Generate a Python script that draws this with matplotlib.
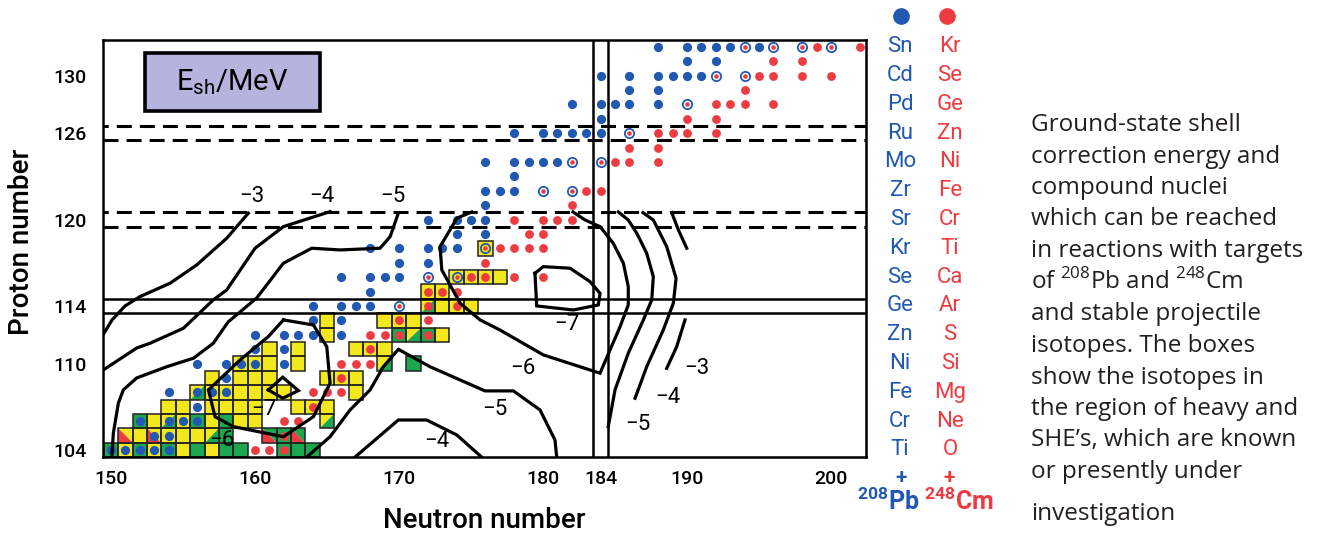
import matplotlib
matplotlib.use("Agg")
import matplotlib.pyplot as plt
from matplotlib.patches import Rectangle, Polygon
from matplotlib.lines import Line2D
from matplotlib.transforms import blended_transform_factory

plt.rcParams['font.family'] = ['Roboto', 'DejaVu Sans']
plt.rcParams['mathtext.fontset'] = 'custom'
plt.rcParams['mathtext.rm'] = 'Open Sans'
plt.rcParams['mathtext.sf'] = 'Roboto'
plt.rcParams['mathtext.bf'] = 'Roboto:bold'
plt.rcParams['lines.scale_dashes'] = False

BLUE = '#2158b2'
RED = '#ee3b42'
YELLOW = '#f3e81e'
GREEN = '#1ba650'
EDGE = '#222222'

# compound nuclei reachable with 208Pb targets (Z: list of N)
blue_dots = {
    132: [188, 190, 191, 192, 193, 195],
    131: [190, 192],
    130: [184, 186, 188, 189, 190, 191],
    129: [186, 188],
    128: [182, 184, 185, 186, 188],
    127: [184],
    126: [178, 180, 181, 182, 183, 184],
    124: [176, 178, 179, 180, 181],
    123: [178],
    122: [176, 177, 178],
    121: [176],
    120: [172, 174, 175, 176],
    119: [174, 176],
    118: [168, 170, 172, 173, 174],
    117: [170, 172],
    116: [166, 168, 169, 170],
    115: [168],
    114: [164, 166, 167, 168],
    113: [164, 166],
    112: [160, 162, 163, 164, 166],
    111: [160, 162],
    110: [156, 158, 162],
    109: [158],
    108: [154],
    107: [156],
}

# compound nuclei reachable with 248Cm targets
red_dots = {
    132: [199, 202],
    131: [196, 198],
    130: [195, 196, 198, 200],
    129: [194],
    128: [192, 193, 194, 196],
    127: [190, 192],
    126: [188, 189, 190, 192],
    125: [186, 188],
    124: [185, 186, 188],
    122: [183, 184],
    121: [182],
    120: [178, 180, 181, 182],
    119: [179, 180],
    118: [177, 178, 179, 180],
    117: [176],
    116: [178, 180],
    115: [174],
    113: [172],
    112: [168, 169],
    110: [166, 167, 168],
    108: [164, 165, 166],
    106: [162, 163],
    104: [160, 161],
}

# reachable with both targets
both_dots = {
    132: [194, 196, 198, 200],
    130: [192, 194],
    128: [190],
    126: [186],
    124: [182, 184],
    122: [180, 182],
    116: [172],
    114: [170],
}

# known / investigated isotopes: (N, Z, fill, dot)
known = [
    (150, 104, 'G', 'b'), (151, 104, 'Y', 'b'), (152, 104, 'G', 'b'), (153, 104, 'Y', 'b'),
    (154, 104, 'G', 'b'), (155, 104, 'Y', ''), (156, 104, 'G', ''), (157, 104, 'Y', ''),
    (158, 104, 'G', ''), (159, 104, 'G', ''), (162, 104, 'G', 'r'), (163, 104, 'G', ''),
    (164, 104, 'G', ''),
    (151, 105, 'RY', ''), (152, 105, 'Y', ''), (153, 105, 'RY', 'b'), (154, 105, 'Y', 'b'),
    (155, 105, 'Y', ''), (156, 105, 'Y', ''), (157, 105, 'GY', ''), (158, 105, 'G', ''),
    (161, 105, 'RG', ''), (162, 105, 'G', 'r'), (163, 105, 'RG', ''),
    (152, 106, 'G', 'b'), (153, 106, 'Y', ''), (154, 106, 'GY', 'b'), (155, 106, 'Y', 'b'),
    (156, 106, 'G', 'b'), (157, 106, 'Y', ''), (158, 106, 'G', ''), (159, 106, 'Y', ''),
    (160, 106, 'Y', ''), (165, 106, 'GY', ''),
    (154, 107, 'Y', ''), (155, 107, 'Y', ''), (157, 107, 'Y', ''), (158, 107, 'Y', ''),
    (159, 107, 'Y', ''), (160, 107, 'Y', ''), (163, 107, 'Y', ''), (164, 107, 'Y', 'r'),
    (165, 107, 'Y', ''),
    (156, 108, 'GY', 'b'), (157, 108, 'Y', 'b'), (158, 108, 'Y', 'b'), (159, 108, 'Y', ''),
    (160, 108, 'Y', ''), (161, 108, 'Y', ''), (162, 108, 'Y', ''), (167, 108, 'Y', ''),
    (157, 109, 'Y', ''), (159, 109, 'Y', ''), (160, 109, 'Y', ''), (161, 109, 'Y', ''),
    (165, 109, 'Y', ''), (166, 109, 'Y', 'r'), (167, 109, 'Y', ''),
    (159, 110, 'Y', 'b'), (160, 110, 'Y', 'b'), (161, 110, 'Y', ''), (163, 110, 'Y', ''),
    (169, 110, 'GY', ''), (171, 110, 'G', ''),
    (161, 111, 'Y', ''), (163, 111, 'Y', ''), (167, 111, 'Y', ''), (168, 111, 'Y', 'r'),
    (169, 111, 'Y', ''),
    (165, 112, 'Y', ''), (170, 112, 'G', 'r'), (171, 112, 'GY', ''), (172, 112, 'G', 'r'),
    (173, 112, 'Y', ''),
    (165, 113, 'Y', ''), (169, 113, 'Y', ''), (170, 113, 'Y', 'r'), (171, 113, 'Y', ''),
    (172, 114, 'GY', 'r'), (173, 114, 'Y', ''), (174, 114, 'Y', 'r'), (175, 114, 'Y', ''),
    (172, 115, 'Y', 'r'), (173, 115, 'Y', 'r'),
    (174, 116, 'Y', 'c'), (175, 116, 'Y', 'r'), (176, 116, 'Y', 'r'), (177, 116, 'Y', ''),
    (176, 118, 'Y', 'c'),
]

# shell correction energy contours as (N, Z) vertices
contours = {
    'm3_left': [(149.48, 112.06), (150.07, 113.03), (150.97, 114.0), (152.01, 114.65),
                (154.10, 115.58), (155.95, 116.85), (158.03, 118.70), (159.53, 120.44)],
    'm4_left': [(149.47, 109.56), (151.78, 111.08), (152.71, 111.41), (155.02, 112.45),
                (157.10, 114.42), (158.03, 115.11), (160.0, 118.01), (161.97, 119.51),
                (165.21, 120.55)],
    'm5_left': [(150.05, 103.5), (150.16, 105.18), (150.51, 107.26), (150.85, 108.17),
                (151.78, 109.0), (153.87, 109.78), (155.72, 110.37), (157.10, 111.41),
                (158.13, 112.89), (160.12, 114.56), (161.97, 116.97), (163.94, 118.01),
                (165.90, 117.89), (168.68, 118.01), (169.38, 118.81), (169.95, 120.44)],
    'm7_left': [(161.97, 113.03), (164.05, 112.68), (164.98, 111.17), (165.21, 108.63),
                (164.05, 106.31), (161.97, 104.92), (158.49, 105.62), (157.22, 106.31),
                (156.76, 108.17), (158.96, 110.25), (160.92, 111.87), (161.97, 113.03)],
    'm7_diamond': [(160.92, 108.17), (161.92, 109.05), (163.01, 108.12), (161.92, 107.59),
                   (160.92, 108.17)],
    'm6_low': [(163.59, 103.5), (165.21, 104.92), (166.60, 106.78), (167.99, 108.17),
               (168.91, 109.78), (169.95, 110.99), (172.15, 109.78), (175.97, 108.10),
               (177.94, 108.10), (179.79, 106.78), (180.83, 104.69), (180.95, 103.5)],
    'm4_low': [(166.94, 103.5), (169.95, 106.08), (171.92, 106.08), (174.01, 105.04),
               (175.74, 103.5)],
    'm6_big': [(175.05, 120.53), (174.01, 120.09), (173.54, 119.28), (172.85, 118.12),
               (172.97, 116.5), (174.24, 114.19), (175.63, 113.03), (177.01, 112.33),
               (180.02, 110.60), (183.96, 109.33), (184.65, 110.94), (185.35, 112.56),
               (185.92, 114.07), (185.92, 115.34), (185.58, 116.97), (184.88, 118.35),
               (183.96, 119.51), (182.92, 119.97), (182.08, 120.53)],
    'm7_right': [(179.44, 116.27), (180.02, 116.73), (181.88, 116.62), (183.26, 115.69),
                 (183.96, 114.88), (183.84, 114.07), (182.10, 113.72), (179.56, 114.0),
                 (179.44, 116.27)],
    'm5_right': [(185.23, 120.53), (185.92, 119.97), (186.51, 119.05), (187.20, 117.66),
                 (187.66, 116.03), (187.55, 114.42), (186.97, 113.03), (185.92, 110.72),
                 (185.0, 108.17), (184.53, 105.62)],
    'm4_right': [(186.94, 120.48), (187.66, 119.97), (188.59, 118.12), (189.24, 115.92),
                 (189.05, 114.19), (188.35, 112.33), (187.20, 109.78), (186.39, 107.59)],
    'm3_right_a': [(188.94, 120.48), (189.40, 119.28), (189.98, 118.01)],
    'm3_right_b': [(189.86, 113.03), (189.28, 111.17), (188.59, 109.67)],
}

contour_labels = [
    ('−3', 159.77, 121.59), ('−4', 164.63, 121.59), ('−5', 169.60, 121.59),
    ('−7', 160.58, 106.78), ('−6', 157.69, 104.69), ('−6', 178.61, 109.69),
    ('−5', 176.67, 106.78), ('−4', 172.64, 104.56), ('−7', 181.65, 112.68),
    ('−3', 190.67, 109.67), ('−4', 188.68, 107.61), ('−5', 186.60, 105.74),
]

x_ticks = [150, 160, 170, 180, 184, 190, 200]
y_ticks = [104, 110, 114, 120, 126, 130]
pb_projectiles = ['Sn', 'Cd', 'Pd', 'Ru', 'Mo', 'Zr', 'Sr', 'Kr', 'Se', 'Ge', 'Zn', 'Ni', 'Fe', 'Cr', 'Ti']
cm_projectiles = ['Kr', 'Se', 'Ge', 'Zn', 'Ni', 'Fe', 'Cr', 'Ti', 'Ca', 'Ar', 'S', 'Si', 'Mg', 'Ne', 'O']
projectile_Z = list(range(132, 103, -2))

caption = [
    ('Ground-state shell', 125), ('correction energy and', 157), ('compound nuclei', 188),
    ('which can be reached', 219), ('in reactions with targets', 251),
    (r'of $^{\mathrm{208}}$Pb and $^{\mathrm{248}}$Cm', 282), ('and stable projectile', 314),
    ('isotopes. The boxes', 346), ('show the isotopes in', 378),
    ('the region of heavy and', 409), ('SHE’s, which are known', 440),
    ('or presently under', 472), ('investigation', 514),
]

W, H = 1319, 533
fig = plt.figure(figsize=(W / 100, H / 100), dpi=100)
fig.patch.set_facecolor('white')
ax = fig.add_axes([103 / W, 1 - 457 / H, 763 / W, 417 / H])
ax.set_xlim(149.44, 202.43)
ax.set_ylim(103.51, 132.47)


def fx(x):
    return x / W


def fy(y):
    return 1 - y / H


fills = {'Y': YELLOW, 'G': GREEN}
for n, z, kind, dot in known:
    x0, y0 = n - 0.5, z - 0.5
    if kind in fills:
        ax.add_patch(Rectangle((x0, y0), 1, 1, fc=fills[kind], ec='none', zorder=2))
    elif kind == 'GY':
        ax.add_patch(Polygon([(x0, y0), (x0, y0 + 1), (x0 + 1, y0 + 1)], fc=YELLOW, ec='none', zorder=2))
        ax.add_patch(Polygon([(x0, y0), (x0 + 1, y0), (x0 + 1, y0 + 1)], fc=GREEN, ec='none', zorder=2))
    else:
        other = YELLOW if kind == 'RY' else GREEN
        ax.add_patch(Polygon([(x0, y0 + 1), (x0 + 1, y0 + 1), (x0 + 1, y0)], fc=other, ec='none', zorder=2))
        ax.add_patch(Polygon([(x0, y0 + 1), (x0, y0), (x0 + 1, y0)], fc=RED, ec='none', zorder=2))
    ax.add_patch(Rectangle((x0, y0), 1, 1, fc='none', ec=EDGE, lw=1.1, zorder=2.5))
    if dot == 'b':
        ax.scatter([n], [z], s=44, c=BLUE, lw=0, zorder=4)
    elif dot == 'r':
        ax.scatter([n], [z], s=40, c=RED, lw=0, zorder=4)
    elif dot == 'c':
        ax.scatter([n], [z], s=64, c=BLUE, lw=0, zorder=4)
        ax.scatter([n], [z], s=29, c=YELLOW, lw=0, zorder=4.1)
        ax.scatter([n], [z], s=11, c=RED, lw=0, zorder=4.2)

for z, ns in blue_dots.items():
    ax.scatter(ns, [z] * len(ns), s=44, c=BLUE, lw=0, zorder=4)
for z, ns in red_dots.items():
    ax.scatter(ns, [z] * len(ns), s=40, c=RED, lw=0, zorder=4)
for z, ns in both_dots.items():
    ax.scatter(ns, [z] * len(ns), s=64, c=BLUE, lw=0, zorder=4)
    ax.scatter(ns, [z] * len(ns), s=29, c='white', lw=0, zorder=4.1)
    ax.scatter(ns, [z] * len(ns), s=11, c=RED, lw=0, zorder=4.2)

# magic number guide lines
for z in (113.5, 114.5):
    ax.axhline(z, color='black', lw=1.8, zorder=3)
for n in (183.5, 184.5):
    ax.axvline(n, color='black', lw=1.8, zorder=3)
for z, off in ((119.5, 0), (120.5, 7), (125.5, 0), (126.5, 7)):
    ln = ax.axhline(z, color='black', lw=2.2, zorder=3)
    ln.set_dashes((10.8, 5.8))
    ln._dash_pattern = (off, ln._dash_pattern[1])

for pts in contours.values():
    ax.plot([p[0] for p in pts], [p[1] for p in pts], color='black', lw=2.3,
            solid_joinstyle='miter', zorder=5)

for txt, n, z in contour_labels:
    ax.text(n, z, txt, fontsize=16, ha='center', va='center', zorder=6)

ax.add_patch(Rectangle((0.055, 0.830), 0.229, 0.139, transform=ax.transAxes,
                       fc='#b5b4df', ec='black', lw=2.6, zorder=6))
ax.text(0.169, 0.899, r'E$_{\mathsf{sh}}$/MeV', transform=ax.transAxes, fontsize=21,
        ha='center', va='center', zorder=7)

ax.set_xticks(x_ticks)
ax.set_yticks(y_ticks)
ax.tick_params(length=0, labelsize=14)
ax.tick_params(axis='x', pad=9)
ax.tick_params(axis='y', pad=12)
for lab in ax.get_xticklabels() + ax.get_yticklabels():
    lab.set_fontweight('medium')
for sp in ax.spines.values():
    sp.set_linewidth(1.8)

fig.text(fx(484), fy(521), 'Neutron number', fontsize=20, fontweight='medium',
         ha='center', va='center')
fig.text(fx(22), fy(242), 'Proton number', fontsize=20, fontweight='medium',
         rotation=90, ha='center', va='center')

# projectile legend column
trans = blended_transform_factory(fig.transFigure, ax.transData)
fig.add_artist(Line2D([fx(901)], [fy(16)], marker='o', ms=11, color=BLUE, lw=0))
fig.add_artist(Line2D([fx(947)], [fy(16)], marker='o', ms=11, color=RED, lw=0))
for z, pb, cm in zip(projectile_Z, pb_projectiles, cm_projectiles):
    fig.text(fx(900), z, pb, transform=trans, color=BLUE, fontsize=16,
             ha='center', va='center')
    fig.text(fx(950), z, cm, transform=trans, color=RED, fontsize=16,
             ha='center', va='center')
fig.text(fx(901), fy(477), '+', color=BLUE, fontsize=15, fontweight='bold',
         ha='center', va='center')
fig.text(fx(949), fy(477), '+', color=RED, fontsize=15, fontweight='bold',
         ha='center', va='center')
fig.text(fx(888), fy(501), r'$^{\mathbf{208}}$Pb', color=BLUE, fontsize=18,
         fontweight='bold', ha='center', va='center')
fig.text(fx(959), fy(501), r'$^{\mathbf{248}}$Cm', color=RED, fontsize=18,
         fontweight='bold', ha='center', va='center')

for line, y in caption:
    fig.text(fx(1031), fy(y), line, fontsize=17.5, family=['Open Sans', 'DejaVu Sans'],
             color='#231f20', ha='left', va='center')

fig.savefig('out.png', dpi=100)
